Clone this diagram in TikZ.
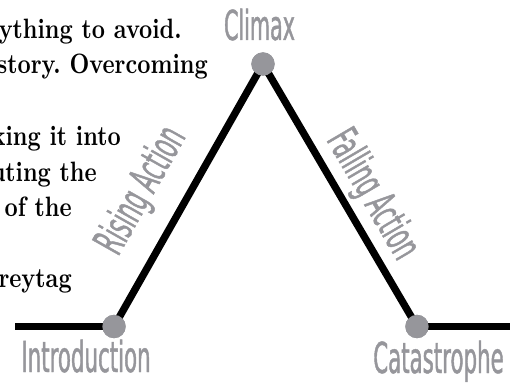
\documentclass[tikz,border=0pt]{standalone}
\usepackage{fontspec}
\newfontfamily\handfont[FakeStretch=0.5,FakeBold=1]{DejaVu Sans}
\newfontfamily\parafont[FakeStretch=0.82]{lmroman10-bold.otf}
\definecolor{labelgray}{RGB}{150,150,155}
\begin{document}
\begin{tikzpicture}[x=0.75pt,y=-0.75pt,
  pt/.style={circle,fill=labelgray,inner sep=0pt,minimum size=17.5pt},
  arc/.style={line width=5.5pt,black},
  hand/.style={text=labelgray,font=\handfont\fontsize{32}{32}\selectfont,inner sep=0pt},
  para/.style={anchor=base east,inner sep=0pt,font=\parafont\fontsize{21}{26.6}\selectfont\frenchspacing}]
\useasboundingbox (0,0) rectangle (510,385);
\clip (0,0) rectangle (510,385);
% paragraph fragments
\node[para] (p1) at (182,39) {ything to avoid.};
\node[para] (p2) at (208,74) {kstory. Overcoming};
\node[para] (p3) at (121,145) {king it into};
\node[para] (p4) at (97,181) {uting the};
\node[para] (p5) at (72,216) {of the};
\node[para] (p6) at (72,287) {reytag};
% pyramid
\coordinate (left) at (15,326.5);
\coordinate (right) at (515,326.5);
\node[pt] (intro) at (114,326.5) {};
\node[pt] (climax) at (263,64) {};
\node[pt] (catas) at (417,326.5) {};
\draw[arc] (left) -- (intro.center);
\draw[arc] (intro.center) -- (climax.center);
\draw[arc] (climax.center) -- (catas.center);
\draw[arc] (catas.center) -- (right);
\node[pt] at (intro) {};
\node[pt] at (climax) {};
\node[pt] at (catas) {};
% labels
\node[hand,anchor=base,font=\handfont\fontsize{31}{31}\selectfont] (lclimax) at (259.5,40) {Climax};
\node[hand,anchor=base] (lintro) at (86,372) {Introduction};
\node[hand,anchor=base] (lcatas) at (438.5,373) {Catastrophe};
\node[hand,rotate=60.5] (lrise) at (142,191) {Rising Action};
\node[hand,rotate=-59.6] (lfall) at (372,195) {Falling Action};
\end{tikzpicture}
\end{document}
